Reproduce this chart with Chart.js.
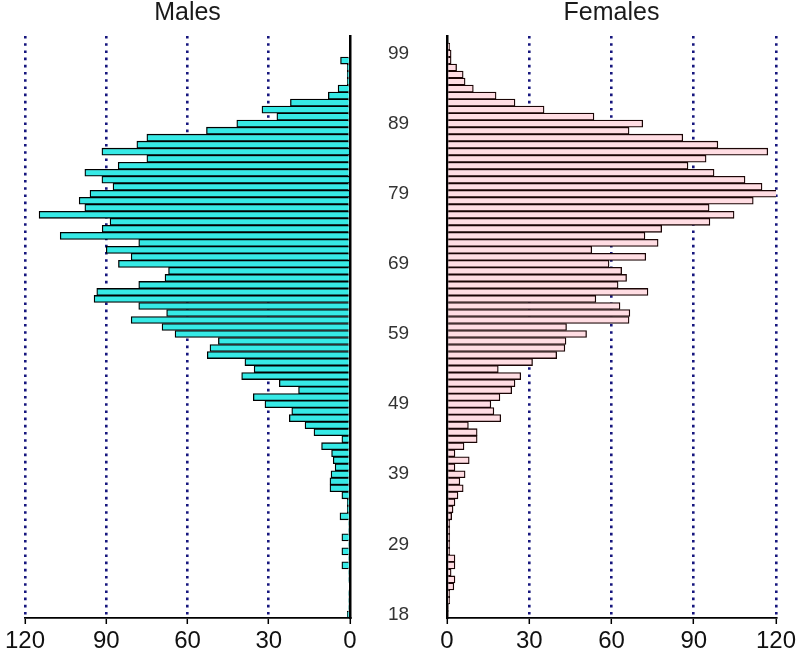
<!DOCTYPE html>
<html>
<head>
<meta charset="utf-8">
<script src="https://cdn.jsdelivr.net/npm/chart.js@4.4.1/dist/chart.umd.min.js"></script>
<style>
  html, body { margin: 0; padding: 0; background: #fff; }
  #wrap { position: relative; width: 798px; height: 658px; overflow: hidden; }
  canvas { position: absolute; top: 0; }
</style>
</head>
<body>
<div id="wrap">
  <canvas id="females" width="398" height="658" style="left:400px"></canvas>
  <canvas id="males" width="447" height="658" style="left:0px"></canvas>
</div>
<script>
// ages from bottom to top (one age is absent between 18 and 29)
var ages = [18, 20, 21, 22, 23, 24, 25, 26, 27, 28,
  29, 30, 31, 32, 33, 34, 35, 36, 37, 38, 39, 40, 41, 42, 43, 44, 45, 46, 47, 48,
  49, 50, 51, 52, 53, 54, 55, 56, 57, 58, 59, 60, 61, 62, 63, 64, 65, 66, 67, 68,
  69, 70, 71, 72, 73, 74, 75, 76, 77, 78, 79, 80, 81, 82, 83, 84, 85, 86, 87, 88,
  89, 90, 91, 92, 93, 94, 95, 96, 97, 98, 99, 100, 101];

var males = [1, 0.5, 0.5, 0.5, 0, 0.5, 0.5, 3, 0.5, 3,
  0.5, 3, 0.5, 0.5, 3.7, 1, 1, 3, 7.4, 7.4, 7, 5.5, 6.2, 6.8, 10.5, 3, 13.3, 16.6, 22.4, 21.5,
  31.4, 35.7, 19, 26.1, 40, 35.4, 38.8, 52.7, 51.7, 48.6, 64.6, 69.4, 80.8, 67.7, 78, 94.5, 93.5, 78, 68.3, 67,
  85.5, 80.8, 90, 78, 107, 91.5, 88.6, 114.8, 97.9, 100, 96, 87.5, 91.6, 97.9, 85.6, 75, 91.6, 78.7, 75, 53,
  41.8, 27, 32.5, 22, 8, 4.4, 1, 1, 1, 3.5, 0, 0, 0];

var females = [0.5, 0.5, 1, 1, 2.5, 2.9, 1.5, 2.9, 2.9, 1,
  1, 1, 1, 1, 1.7, 2.2, 2.9, 4, 5.9, 4.7, 6.6, 2.9, 8.1, 2.9, 6.2, 11, 11, 7.8, 19.6, 17.1,
  16, 19.3, 23.6, 24.8, 26.9, 18.7, 31.2, 40, 43, 43.4, 50.9, 43.6, 66.4, 66.7, 63.1, 54.3, 73.3, 62.4, 65.5, 63.7,
  59.1, 72.5, 52.8, 77, 72.2, 78.3, 95.9, 104.7, 95.6, 111.7, 120.7, 114.9, 108.7, 97.4, 87.9, 94.5, 117, 98.8, 86, 66.4,
  71.4, 53.6, 35.4, 24.8, 17.9, 9.6, 6.6, 5.9, 3.5, 1.5, 1.5, 1, 0];

var ageTicks = [18, 29, 39, 49, 59, 69, 79, 89, 99];
var countTicks = [0, 30, 60, 90, 120];

var sans = "'Liberation Sans', Arial, sans-serif";

// panel heading, centred over the plot area
var panelTitle = {
  id: 'panelTitle',
  afterDraw: function (chart, args, opts) {
    var ctx = chart.ctx, a = chart.chartArea;
    ctx.save();
    ctx.font = '25px ' + sans;
    ctx.fillStyle = '#1a1a1a';
    ctx.textAlign = 'center';
    ctx.textBaseline = 'middle';
    ctx.fillText(opts.text, (a.left + a.right) / 2, 13);
    ctx.restore();
  }
};

function gridColor(c) {
  return c.tick && c.tick.value === 0 ? 'rgba(0,0,0,0)' : '#16167e';
}

function xScale(reverse) {
  return {
    reverse: reverse,
    min: 0,
    max: 120,
    afterBuildTicks: function (s) { s.ticks = countTicks.map(function (v) { return { value: v }; }); },
    ticks: { font: { family: sans, size: 24 }, color: '#111', padding: 3 },
    grid: { color: gridColor, lineWidth: 2.6, tickColor: '#000', tickLength: 6, tickWidth: 1.5 },
    border: { display: true, color: '#000', width: 1.8, dash: [2.6, 4.6] },
    afterFit: function (s) { s.height = 40; s.paddingLeft = 0; s.paddingRight = 0; }
  };
}

function yScale(pos, labelled) {
  return {
    position: pos,
    reverse: true,
    ticks: labelled ? {
      autoSkip: false,
      crossAlign: 'center',
      padding: 38,
      font: { family: sans, size: 19 },
      color: '#333',
      callback: function (v, i) { return ageTicks.indexOf(ages[i]) >= 0 ? String(ages[i]) : ''; }
    } : { display: false },
    grid: { display: false, drawTicks: false },
    border: { color: '#000', width: 2.5 },
    afterFit: function (s) { s.width = labelled ? 97 : 47; s.paddingTop = 0; s.paddingBottom = 0; }
  };
}

new Chart(document.getElementById('males'), {
  type: 'bar',
  data: {
    labels: ages,
    datasets: [{
      data: males,
      backgroundColor: '#36eae6',
      borderColor: '#000',
      borderWidth: 1.3,
      barPercentage: 1,
      categoryPercentage: 1
    }]
  },
  options: {
    indexAxis: 'y',
    responsive: false,
    animation: false,
    layout: { padding: { left: 25, right: 0, top: 36, bottom: 0 } },
    plugins: { legend: { display: false }, tooltip: { enabled: false }, panelTitle: { text: 'Males' } },
    scales: { x: xScale(true), y: yScale('right', true) }
  },
  plugins: [panelTitle]
});

new Chart(document.getElementById('females'), {
  type: 'bar',
  data: {
    labels: ages,
    datasets: [{
      data: females,
      backgroundColor: '#ffdde3',
      borderColor: '#1a0505',
      borderWidth: 1.3,
      barPercentage: 1,
      categoryPercentage: 1
    }]
  },
  options: {
    indexAxis: 'y',
    responsive: false,
    animation: false,
    layout: { padding: { left: 0, right: 22, top: 36, bottom: 0 } },
    plugins: { legend: { display: false }, tooltip: { enabled: false }, panelTitle: { text: 'Females' } },
    scales: { x: xScale(false), y: yScale('left', false) }
  },
  plugins: [panelTitle]
});
</script>
</body>
</html>
